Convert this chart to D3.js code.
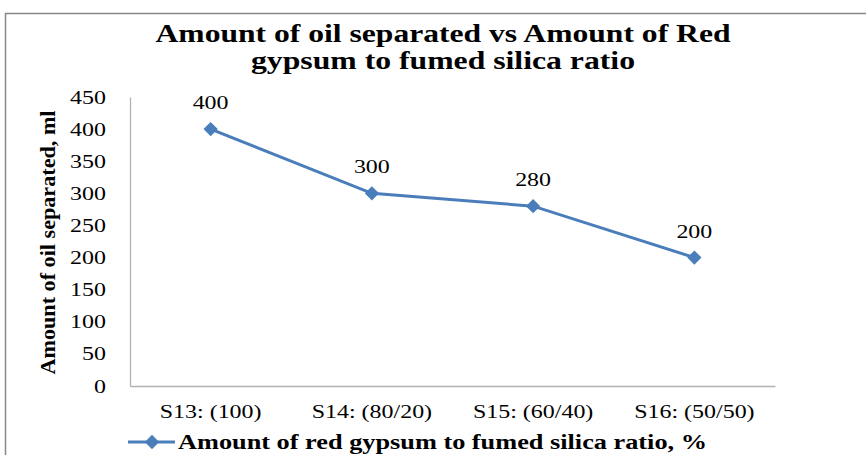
<!DOCTYPE html>
<html lang="en">
<head>
    <meta charset="UTF-8" />
    <title>Amount of oil separated</title>
    <script src="https://d3js.org/d3.v7.min.js"></script>
    <style>
        body { margin: 0; background: #fff; }
    </style>
</head>
<body>
    <div id="chart"></div>
    <script>
// Chart data
var categories = ["S13: (100)", "S14: (80/20)", "S15: (60/40)", "S16: (50/50)"];
var oilValues = [400, 300, 280, 200];
var yTicks = [0, 50, 100, 150, 200, 250, 300, 350, 400, 450];
var seriesName = "Amount of red gypsum to fumed silica ratio, %";

var width = 866, height = 455;
var margin = { left: 130, right: 91, top: 97, bottom: 69 };
var lineColor = "#4a7ebb";
var serif = "'Liberation Serif', 'Times New Roman', 'DejaVu Serif', serif";
var widen = 1.26; // the source picture is stretched sideways

// stretch text horizontally, to a factor or to a fixed length
function stretch(sel, k, fixed) {
    sel.each(function() {
        var w = fixed || this.getComputedTextLength() * k;
        d3.select(this).attr("textLength", w).attr("lengthAdjust", "spacingAndGlyphs");
    });
}

var svg = d3.select("#chart").append("svg")
    .attr("width", width)
    .attr("height", height)
    .style("font-family", serif);

// Outer chart border (runs off the right and bottom edges)
svg.append("rect")
    .attr("x", 5.5).attr("y", 13.5)
    .attr("width", 900).attr("height", 500)
    .attr("fill", "none")
    .attr("stroke", "#888")
    .attr("stroke-width", 1.5);

var x = d3.scaleBand()
    .domain(categories)
    .range([margin.left, width - margin.right]);

var y = d3.scaleLinear()
    .domain([0, 450])
    .range([height - margin.bottom, margin.top]);

// Title
var titleLines = ["Amount of oil separated vs Amount of Red", "gypsum to fumed silica ratio"];
var titleWidths = [575, 384];
titleLines.forEach(function(t, i) {
    svg.append("text")
        .attr("x", 443).attr("y", 42 + i * 27)
        .attr("text-anchor", "middle")
        .style("font-family", serif)
        .style("font-weight", "bold")
        .style("font-size", "25px")
        .text(t)
        .call(stretch, 1, titleWidths[i]);
});

// Y axis
var yAxis = svg.append("g")
    .attr("transform", "translate(" + margin.left + ",0)")
    .call(d3.axisLeft(y).tickValues(yTicks).tickSize(0).tickPadding(24));
yAxis.attr("font-family", null);
yAxis.select(".domain").attr("stroke", "#b3b3b3").attr("stroke-width", 1.3);
yAxis.selectAll("text")
    .style("font-size", "19px")
    .style("font-family", serif)
    .call(stretch, widen);

// X axis
var xAxis = svg.append("g")
    .attr("transform", "translate(0," + (height - margin.bottom) + ")")
    .call(d3.axisBottom(x).tickSize(0).tickPadding(19));
xAxis.attr("font-family", null);
xAxis.select(".domain").attr("stroke", "#b3b3b3").attr("stroke-width", 1.3);
xAxis.selectAll("text")
    .style("font-size", "19px")
    .style("font-family", serif)
    .call(stretch, widen);

// Y axis title
svg.append("text")
    .attr("transform", "translate(55," + ((margin.top + height - margin.bottom) / 2 + 1) + ") rotate(-90)")
    .attr("text-anchor", "middle")
    .style("font-family", serif)
    .style("font-weight", "bold")
    .style("font-size", "21px")
    .text("Amount of oil separated, ml")
    .call(stretch, 1, 264);

// Line
var line = d3.line()
    .x(function(d, i) { return x(categories[i]) + x.bandwidth() / 2; })
    .y(function(d) { return y(d); });

svg.append("path")
    .datum(oilValues)
    .attr("d", line)
    .attr("fill", "none")
    .attr("stroke", lineColor)
    .attr("stroke-width", 3);

var diamond = d3.symbol().type(d3.symbolDiamond2).size(130);

svg.selectAll(".pt")
    .data(oilValues)
    .enter().append("path")
    .attr("class", "pt")
    .attr("d", diamond)
    .attr("transform", function(d, i) {
        return "translate(" + (x(categories[i]) + x.bandwidth() / 2) + "," + y(d) + ")";
    })
    .attr("fill", lineColor);

// Data labels
svg.selectAll(".lbl")
    .data(oilValues)
    .enter().append("text")
    .attr("class", "lbl")
    .attr("x", function(d, i) { return x(categories[i]) + x.bandwidth() / 2; })
    .attr("y", function(d) { return y(d) - 20; })
    .attr("text-anchor", "middle")
    .style("font-family", serif)
    .style("font-size", "19px")
    .text(function(d) { return d; })
    .call(stretch, widen);

// Legend
var legend = svg.append("g").attr("transform", "translate(128,442)");
legend.append("line")
    .attr("x1", 0).attr("x2", 47)
    .attr("stroke", lineColor).attr("stroke-width", 3);
legend.append("path")
    .attr("d", diamond)
    .attr("transform", "translate(24,0)")
    .attr("fill", lineColor);
legend.append("text")
    .attr("x", 50).attr("y", 7)
    .style("font-family", serif)
    .style("font-weight", "bold")
    .style("font-size", "21px")
    .text(seriesName)
    .call(stretch, 1, 529);
    </script>
</body>
</html>
